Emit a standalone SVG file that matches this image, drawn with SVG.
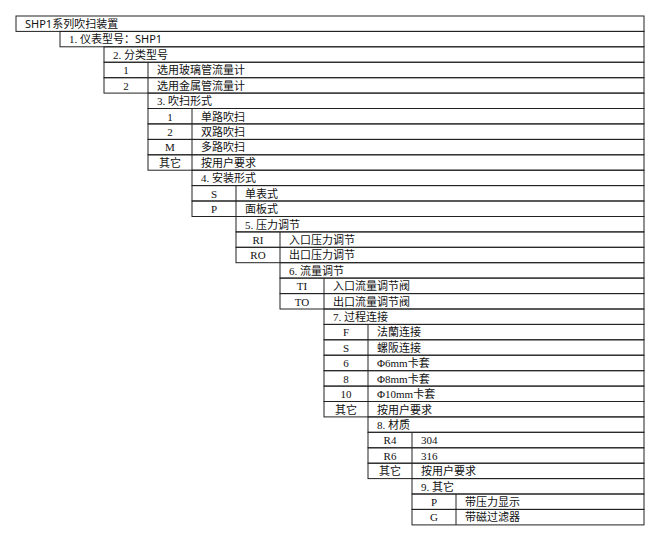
<svg xmlns="http://www.w3.org/2000/svg" width="662" height="539" viewBox="0 0 662 539">
<style>
rect{fill:none;stroke:#222;stroke-width:1}
line{stroke:#222;stroke-width:1}
text{font-family:"Noto Sans CJK SC","Noto Sans",sans-serif;font-size:11px;fill:#111}
.c{font-family:"Liberation Serif","Noto Sans CJK SC",serif;text-anchor:middle}
.h{font-family:"Liberation Serif","Noto Sans CJK SC",serif}
</style>
<rect width="662" height="539" style="fill:#fff;stroke:none"/>
<g id="n0"><rect x="16" y="16" width="628" height="15.4"/><text x="25" y="28" style="font-family:'Noto Sans','Noto Sans CJK SC',sans-serif">SHP1系列吹扫装置</text></g>
<g id="n1"><rect x="60" y="31.4" width="584" height="15.4"/><text x="69" y="43.4" class="h">1. 仪表型号：<tspan style="font-family:'Noto Sans',sans-serif">SHP1</tspan></text></g>
<g id="n2"><rect x="104" y="46.8" width="540" height="15.4"/><text x="113" y="58.8" class="h">2. 分类型号</text>
<rect x="104" y="62.3" width="540" height="15.4"/><line x1="148" y1="62.3" x2="148" y2="93.1"/><text x="126" y="74.3" class="c">1</text><text x="157" y="74.3">选用玻璃管流量计</text>
<rect x="104" y="77.7" width="540" height="15.4"/><text x="126" y="89.7" class="c">2</text><text x="157" y="89.7">选用金属管流量计</text></g>
<g id="n3"><rect x="148" y="93.1" width="496" height="15.4"/><text x="157" y="105.1" class="h">3. 吹扫形式</text>
<rect x="148" y="108.5" width="496" height="15.4"/><rect x="148" y="123.9" width="496" height="15.5"/><rect x="148" y="139.4" width="496" height="15.4"/><rect x="148" y="154.8" width="496" height="15.4"/><line x1="192" y1="108.5" x2="192" y2="170.2"/>
<text x="170" y="120.5" class="c">1</text><text x="201" y="120.5">单路吹扫</text>
<text x="170" y="135.9" class="c">2</text><text x="201" y="135.9">双路吹扫</text>
<text x="170" y="151.4" class="c">M</text><text x="201" y="151.4">多路吹扫</text>
<text x="170" y="166.8" class="c">其它</text><text x="201" y="166.8">按用户要求</text></g>
<g id="n4"><rect x="192" y="170.2" width="452" height="15.4"/><text x="201" y="182.2" class="h">4. 安装形式</text>
<rect x="192" y="185.6" width="452" height="15.4"/><rect x="192" y="201" width="452" height="15.5"/><line x1="236" y1="185.6" x2="236" y2="216.5"/>
<text x="214" y="197.6" class="c">S</text><text x="245" y="197.6">单表式</text>
<text x="214" y="213" class="c">P</text><text x="245" y="213">面板式</text></g>
<g id="n5"><rect x="236" y="216.5" width="408" height="15.4"/><text x="245" y="228.5" class="h">5. 压力调节</text>
<rect x="236" y="231.9" width="408" height="15.4"/><rect x="236" y="247.3" width="408" height="15.4"/><line x1="280" y1="231.9" x2="280" y2="262.7"/>
<text x="258" y="243.9" class="c">RI</text><text x="289" y="243.9">入口压力调节</text>
<text x="258" y="259.3" class="c">RO</text><text x="289" y="259.3">出口压力调节</text></g>
<g id="n6"><rect x="280" y="262.7" width="364" height="15.4"/><text x="289" y="274.7" class="h">6. 流量调节</text>
<rect x="280" y="278.1" width="364" height="15.5"/><rect x="280" y="293.6" width="364" height="15.4"/><line x1="324" y1="278.1" x2="324" y2="309"/>
<text x="302" y="290.1" class="c">TI</text><text x="333" y="290.1">入口流量调节阀</text>
<text x="302" y="305.6" class="c">TO</text><text x="333" y="305.6">出口流量调节阀</text></g>
<g id="n7"><rect x="324" y="309" width="320" height="15.4"/><text x="333" y="321" class="h">7. 过程连接</text>
<rect x="324" y="324.4" width="320" height="15.4"/><rect x="324" y="339.8" width="320" height="15.4"/><rect x="324" y="355.2" width="320" height="15.5"/><rect x="324" y="370.7" width="320" height="15.4"/><rect x="324" y="386.1" width="320" height="15.4"/><rect x="324" y="401.5" width="320" height="15.4"/><line x1="368" y1="324.4" x2="368" y2="416.9"/>
<text x="346" y="336.4" class="c">F</text><text x="377" y="336.4">法蘭连接</text>
<text x="346" y="351.8" class="c">S</text><text x="377" y="351.8">螺阪连接</text>
<text x="346" y="367.2" class="c">6</text><text x="377" y="367.2" class="h">Φ6mm卡套</text>
<text x="346" y="382.7" class="c">8</text><text x="377" y="382.7" class="h">Φ8mm卡套</text>
<text x="346" y="398.1" class="c">10</text><text x="377" y="398.1" class="h">Φ10mm卡套</text>
<text x="346" y="413.5" class="c">其它</text><text x="377" y="413.5">按用户要求</text></g>
<g id="n8"><rect x="368" y="416.9" width="276" height="15.4"/><text x="377" y="428.9" class="h">8. 材质</text>
<rect x="368" y="432.3" width="276" height="15.5"/><rect x="368" y="447.8" width="276" height="15.4"/><rect x="368" y="463.2" width="276" height="15.4"/><line x1="412" y1="432.3" x2="412" y2="478.6"/>
<text x="390" y="444.3" class="c">R4</text><text x="421" y="444.3" class="h">304</text>
<text x="390" y="459.8" class="c">R6</text><text x="421" y="459.8" class="h">316</text>
<text x="390" y="475.2" class="c">其它</text><text x="421" y="475.2">按用户要求</text></g>
<g id="n9"><rect x="412" y="478.6" width="232" height="15.4"/><text x="421" y="490.6" class="h">9. 其它</text>
<rect x="412" y="494" width="232" height="15.4"/><rect x="412" y="509.4" width="232" height="15.5"/><line x1="456" y1="494" x2="456" y2="524.9"/>
<text x="434" y="506" class="c">P</text><text x="465" y="506">带压力显示</text>
<text x="434" y="521.4" class="c">G</text><text x="465" y="521.4">带磁过滤器</text></g>
<g id="connectors"></g>
</svg>
